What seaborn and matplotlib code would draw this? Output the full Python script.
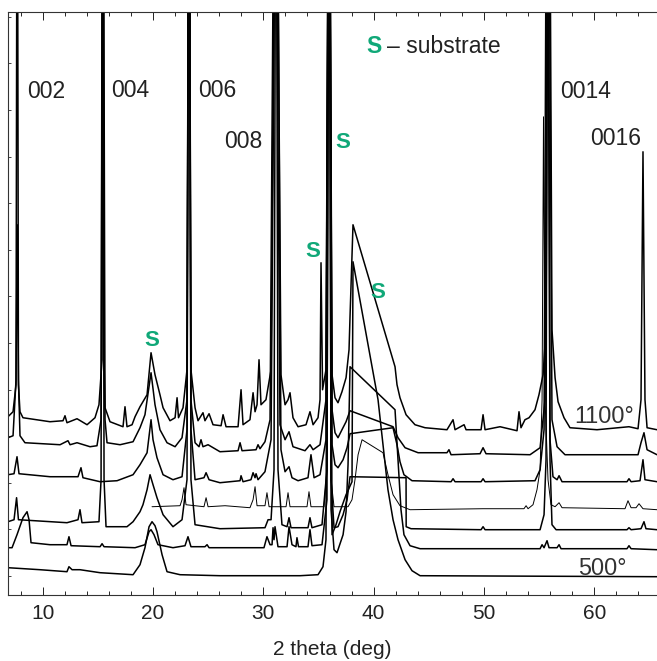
import numpy as np
import pandas as pd
import seaborn as sns
import matplotlib.pyplot as plt
from matplotlib.ticker import MultipleLocator

# %% veriler: 2 theta (deg) ve yogunluk (keyfi birim, ust ust dizilmis)
TOP = 900  # cerceveden tasan tepeler

t1100_x = [6.85, 7.31, 7.58, 7.69, 7.80, 7.94, 8.21, 10.66, 11.84, 12.02, 12.20, 13.11, 14.02, 14.74, 15.10, 15.38, 15.47, 15.56, 15.65, 16.10,
           17.28, 17.46, 17.64, 18.10, 18.37, 18.82, 19.46, 19.82, 20.18, 20.63, 20.91, 21.54, 22.00, 22.18, 22.31, 22.72, 23.08, 23.26, 23.44, 23.81,
           24.08, 24.53, 24.71, 25.08, 25.44, 26.17, 26.35, 26.62, 27.71, 27.98, 28.16, 28.79, 29.07, 29.25, 29.43, 29.61, 29.79, 30.24, 30.70, 31.15,
           31.60, 31.97, 32.24, 32.42, 32.69, 33.15, 33.87, 34.23, 34.51, 34.96, 35.14, 35.23, 35.37, 35.68, 35.96, 36.23, 36.50, 36.77, 37.13, 37.50,
           37.77, 37.86, 38.13, 41.94, 42.12, 42.39, 42.94, 43.75, 44.66, 46.65, 47.20, 47.38, 48.20, 48.38, 49.74, 49.92, 50.10, 51.46, 53.00, 53.18,
           53.36, 53.72, 54.09, 54.63, 54.99, 55.36, 55.63, 55.90, 56.17, 56.45, 56.72, 57.26, 57.80, 60.25, 63.15, 63.97, 64.24, 64.42, 64.60, 64.79, 65.69]
t1100_y = [178, 183, 210, TOP, 210, 183, 177, 173, 174, 179, 172, 176, 170, 177, 190, 235, TOP, 235, 187, 173,
           168, 188, 168, 170, 178, 188, 200, 242, 220, 200, 187, 174, 177, 197, 177, 187, 225, TOP, 225, 187,
           174, 182, 174, 181, 170, 169, 180, 168, 168, 205, 170, 175, 202, 183, 190, 235, 190, 195, 225, TOP,
           220, 190, 195, 202, 177, 168, 170, 183, 170, 177, 195, 332, 205, 225, TOP, 220, 197, 192, 203, 217,
           245, 278, 370, 228, 210, 197, 180, 170, 167, 165, 175, 165, 170, 165, 165, 180, 165, 168, 164, 183,
           167, 175, 177, 185, 200, 220, 265, TOP, 265, 217, 193, 177, 167, 165, 168, 166, 195, 443, 195, 167, 165]

t1000_x = [6.85, 7.31, 7.58, 7.69, 7.80, 7.94, 8.39, 11.57, 12.29, 12.48, 13.11, 14.29, 14.92, 15.29, 15.47, 15.65, 15.83, 17.01, 18.19, 18.82,
           19.27, 19.82, 20.18, 20.63, 21.27, 22.00, 22.63, 23.08, 23.26, 23.44, 23.81, 24.17, 24.35, 24.53, 24.99, 26.07, 27.71, 27.89, 28.07, 29.34,
           29.52, 29.70, 30.15, 30.61, 31.06, 31.51, 31.97, 32.33, 32.69, 33.78, 34.23, 34.51, 35.14, 35.68, 35.96, 36.23, 36.50, 36.77, 37.13, 37.50,
           37.86, 41.76, 42.21, 42.85, 44.03, 46.65, 46.83, 47.02, 49.65, 49.92, 50.19, 54.18, 55.09, 55.54, 55.81, 56.17, 56.63, 57.35, 63.97, 64.24,
           64.51, 64.79, 65.69]
t1000_y = [157, 159, 215, 370, 215, 159, 152, 150, 154, 150, 152, 148, 149, 175, TOP, 175, 152, 150, 153, 167,
           180, 222, 190, 165, 152, 148, 157, 195, TOP, 195, 152, 148, 155, 148, 150, 143, 144, 152, 144, 145,
           150, 146, 153, 175, TOP, 170, 155, 163, 148, 144, 150, 145, 150, 195, TOP, 185, 162, 157, 165, 173,
           184, 168, 157, 147, 142, 142, 145, 140, 141, 147, 141, 140, 147, 195, TOP, 175, 148, 140, 140, 152,
           162, 145, 140]

t900_x = [6.85, 7.40, 7.67, 7.85, 10.66, 13.20, 13.47, 13.65, 15.20, 16.74, 18.19, 18.82, 19.46, 19.82, 20.00, 20.36, 20.91, 21.81, 22.63, 23.08,
          23.26, 23.44, 23.81, 24.62, 24.81, 25.08, 26.07, 27.89, 27.98, 28.16, 28.88, 29.07, 29.25, 29.34, 29.52, 30.15, 30.70, 31.20, 31.60, 31.97,
          32.33, 32.60, 33.15, 34.05, 34.32, 34.60, 35.14, 35.68, 35.96, 36.23, 36.50, 36.77, 37.23, 37.59, 37.86, 41.76, 42.12, 42.39, 42.75, 43.48,
          47.02, 47.20, 47.38, 49.74, 49.92, 50.10, 54.63, 55.09, 55.45, 55.72, 55.99, 56.26, 56.63, 56.81, 57.08, 62.97, 63.15, 63.34, 64.15, 64.42,
          64.60, 65.69]
t900_y = [120, 121, 138, 121, 118, 118, 127, 117, 113, 114, 120, 130, 142, 175, 155, 137, 120, 115, 118, 165,
          TOP, 165, 115, 117, 122, 115, 112, 114, 119, 113, 115, 122, 117, 121, 115, 123, 155, TOP, 145, 123,
          128, 117, 114, 117, 140, 117, 120, 155, TOP, 150, 130, 127, 135, 147, 161, 167, 150, 133, 120, 114,
          113, 116, 113, 113, 116, 113, 114, 125, 165, TOP, 155, 118, 115, 119, 113, 113, 116, 113, 114, 135,
          115, 113]

t800_x = [19.91, 22.45, 22.63, 22.81, 22.99, 24.62, 24.81, 24.99, 26.53, 28.79, 29.07, 29.25, 29.43, 30.15, 30.33, 30.52, 32.06, 32.24, 32.42, 33.96,
          34.14, 34.32, 35.50, 35.77, 35.96, 36.14, 36.41, 37.68, 38.04, 38.31, 38.59, 38.95, 40.85, 41.30, 41.76, 42.39, 43.30, 49.92, 53.63, 53.82,
          54.00, 54.45, 54.81, 55.09, 55.27, 55.40, 55.54, 55.81, 56.08, 56.45, 56.81, 57.08, 62.79, 63.06, 63.34, 63.79, 64.06, 64.42, 65.69]
t800_y = [88, 89, 95, 107, 90, 88, 97, 88, 89, 87, 95, 108, 89, 89, 102, 88, 88, 102, 88, 88,
          103, 88, 88, 125, TOP, 115, 88, 88, 95, 115, 140, 155, 142, 120, 100, 89, 85, 86, 86, 89,
          86, 90, 105, 125, 195, 478, 195, 115, 90, 88, 92, 87, 86, 94, 87, 87, 91, 86, 85]

t700_x = [6.85, 7.40, 7.63, 7.80, 12.20, 13.20, 13.38, 13.56, 15.10, 15.29, 15.42, 15.56, 15.74, 17.64, 18.19, 18.82, 19.09, 19.46, 19.73, 20.00,
          20.36, 20.91, 21.81, 22.63, 23.08, 23.26, 23.44, 23.81, 26.07, 30.15, 30.43, 30.70, 30.97, 31.15, 31.33, 31.69, 32.15, 32.33, 32.51, 34.05,
          34.23, 34.41, 35.32, 35.77, 35.96, 36.14, 36.41, 36.77, 37.23, 37.59, 37.86, 42.94, 42.95, 43.39, 49.74, 49.92, 50.10, 55.09, 55.45, 55.63,
          55.81, 55.99, 56.17, 56.54, 62.97, 63.15, 63.34, 64.24, 64.51, 64.69, 65.69]
t700_y = [73, 75, 97, 75, 72, 75, 85, 72, 73, 115, TOP, 115, 68, 68, 73, 83, 90, 105, 120, 110,
          97, 80, 68, 75, 115, TOP, 115, 70, 66, 67, 75, 75, 125, TOP, 125, 70, 68, 77, 67, 67,
          77, 67, 70, 125, TOP, 115, 67, 68, 80, 95, 118, 117, 68, 66, 65, 68, 65, 65, 80, 135,
          TOP, 135, 70, 65, 65, 67, 65, 66, 73, 66, 65]

t600_x = [6.85, 7.22, 7.67, 8.21, 8.58, 8.76, 8.94, 10.66, 12.20, 12.38, 12.57, 15.20, 15.38, 15.56, 18.37, 19.27, 19.64, 19.82, 20.09, 20.45,
          21.81, 22.90, 23.17, 23.44, 24.71, 24.90, 25.08, 26.53, 30.06, 30.33, 30.61, 30.79, 30.88, 30.97, 31.06, 31.33, 32.15, 32.33, 32.60, 32.96,
          33.05, 33.19, 34.05, 34.23, 34.41, 35.32, 35.77, 35.96, 36.14, 36.41, 36.68, 37.23, 37.50, 37.68, 37.86, 41.94, 42.21, 42.48, 42.75, 43.30,
          44.21, 55.09, 55.27, 55.45, 55.72, 55.90, 56.63, 56.81, 56.99, 62.97, 63.15, 63.34, 65.69]
t600_y = [47, 47, 60, 77, 83, 75, 52, 50, 50, 58, 49, 48, 51, 48, 47, 50, 63, 65, 60, 50,
          47, 49, 58, 48, 48, 50, 47, 47, 47, 58, 50, 50, 67, 55, 68, 48, 48, 68, 50, 48,
          57, 48, 48, 65, 49, 50, 95, TOP, 85, 45, 42, 60, 83, 130, 228, 185, 135, 85, 60, 49,
          46, 46, 50, 47, 54, 47, 47, 50, 46, 46, 49, 46, 45]

t500_x = [6.85, 9.75, 12.20, 12.38, 12.66, 13.38, 15.20, 18.19, 18.82, 19.27, 19.64, 19.91, 20.18, 20.36, 20.82, 21.27, 22.45, 26.07, 33.33, 34.96,
          35.41, 35.68, 35.96, 36.23, 36.59, 36.95, 37.50, 38.04, 38.13, 40.40, 41.30, 41.76, 42.21, 42.85, 43.48, 44.21, 65.69]
t500_y = [27, 25, 23, 28, 25, 25, 22, 20, 30, 47, 68, 73, 69, 63, 40, 23, 20, 19, 19, 20,
          28, 55, TOP, 60, 70, 83, 100, 113, 333, 195, 105, 75, 55, 35, 24, 19, 18]

sicakliklar = ["500°", "600°", "700°", "800°", "900°", "1000°", "1100°"]
seriler = [(t500_x, t500_y), (t600_x, t600_y), (t700_x, t700_y), (t800_x, t800_y),
           (t900_x, t900_y), (t1000_x, t1000_y), (t1100_x, t1100_y)]

# pik etiketleri
pik_etiket = ["002", "004", "006", "008", "0014", "0016"]
pik_x = [10.34, 17.89, 25.80, 28.16, 59.21, 61.98]
pik_y = [497, 498, 498, 447, 497, 450]
s_x = [19.86, 34.50, 37.18, 40.40]
s_y = [249, 338, 447, 297]

# %% grafik
sns.set_style("ticks")
plt.rcParams["font.family"] = ["Liberation Sans", "DejaVu Sans"]
YESIL = "#10a878"

fig = plt.figure(figsize=(6.57, 6.61), dpi=100)
ax = fig.add_axes([8.3 / 657, 66.3 / 661, 648.7 / 657, 582.9 / 661])

for (xs, ys), t in zip(seriler, sicakliklar):
    df = pd.DataFrame({"2theta": xs, "I": ys})
    lw = 0.7 if t == "800°" else 1.1
    sns.lineplot(data=df, x="2theta", y="I", sort=False, estimator=None,
                 color="black", lw=lw, ax=ax)

for e, x, y in zip(pik_etiket, pik_x, pik_y):
    ax.text(x, y, e, ha="center", va="baseline", fontsize=16.5, color="#222222")
for x, y in zip(s_x, s_y):
    ax.text(x, y, "S", ha="center", va="baseline", fontsize=16, fontweight="bold", color=YESIL)

ax.text(39.31, 542, "S", ha="left", va="baseline", fontsize=16.5, fontweight="bold", color=YESIL)
ax.text(41.23, 542, "– substrate", ha="left", va="baseline", fontsize=16.5, color="#222222")
ax.text(60.9, 172, "1100°", ha="center", va="baseline", fontsize=16.8, color="#333333")
ax.text(60.72, 20, "500°", ha="center", va="baseline", fontsize=16.8, color="#333333")

ax.set_xlim(6.88, 65.69)
ax.set_ylim(0, 583)
ax.xaxis.set_major_locator(MultipleLocator(10))
ax.xaxis.set_minor_locator(MultipleLocator(2))
ax.set_yticks(np.arange(18.8, 583, 46.6))
ax.set_yticklabels([])
ax.tick_params(axis="x", which="major", direction="in", top=True, length=5.8, width=0.7,
               labelsize=15, pad=7, colors="#222222")
ax.tick_params(axis="x", which="minor", direction="in", top=True, length=2.9, width=0.7)
ax.tick_params(axis="y", which="major", direction="in", left=True, right=False, length=2.2, width=0.6)
ax.spines["right"].set_visible(False)
for s in ["left", "bottom", "top"]:
    ax.spines[s].set_linewidth(0.8)
    ax.spines[s].set_color("#333333")

ax.set_xlabel("2 theta (deg)", fontsize=15, labelpad=12, color="#222222")
ax.set_ylabel("")

fig.savefig("out.png", dpi=100)
